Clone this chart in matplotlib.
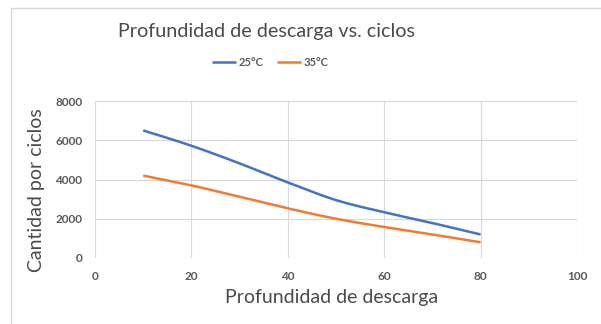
import numpy as np
import matplotlib
matplotlib.use("Agg")
import matplotlib.pyplot as plt
from matplotlib.patches import Rectangle

# Profundidad de descarga (%) y ciclos de vida por temperatura
profundidad = [10, 20, 30, 40, 50, 60, 70, 80]
ciclos_25 = [6500, 5720, 4820, 3850, 2950, 2330, 1780, 1200]
ciclos_35 = [4200, 3700, 3120, 2530, 2000, 1580, 1200, 800]
series = [("25°C", ciclos_25, "#4472C4"), ("35°C", ciclos_35, "#ED7D31")]

x_ticks = [0, 20, 40, 60, 80, 100]
y_ticks = [0, 2000, 4000, 6000, 8000]

TEXT = "#595959"
GRID = "#D9D9D9"
FONT = ["Lato", "DejaVu Sans"]


def smooth(x, y, n=20):
    """Catmull-Rom spline through the points, like a smoothed Excel line."""
    x = np.asarray(x, float)
    y = np.asarray(y, float)
    px = np.concatenate([[2 * x[0] - x[1]], x, [2 * x[-1] - x[-2]]])
    py = np.concatenate([[2 * y[0] - y[1]], y, [2 * y[-1] - y[-2]]])
    xs, ys = [], []
    t = np.linspace(0, 1, n, endpoint=False)
    for i in range(1, len(px) - 2):
        for p, out in ((px, xs), (py, ys)):
            p0, p1, p2, p3 = p[i - 1:i + 3]
            out.extend(0.5 * (2 * p1 + (-p0 + p2) * t
                              + (2 * p0 - 5 * p1 + 4 * p2 - p3) * t ** 2
                              + (-p0 + 3 * p1 - 3 * p2 + p3) * t ** 3))
    xs.append(x[-1])
    ys.append(y[-1])
    return np.array(xs), np.array(ys)


fig = plt.figure(figsize=(6.01, 3.24), dpi=100)
fig.patches.append(Rectangle((11 / 601, -0.1), 1.2, 1.1 - 8 / 324,
                             transform=fig.transFigure, fill=False,
                             edgecolor="#DCD6D2", linewidth=1.0))

ax = fig.add_axes([95 / 601, 66 / 324, 482 / 601, 157 / 324])
for label, vals, color in series:
    sx, sy = smooth(profundidad, vals)
    ax.plot(sx, sy, color=color, lw=1.8, label=label, solid_capstyle="butt")

ax.set_xlim(0, 100)
ax.set_ylim(0, 8000)
ax.set_xticks(x_ticks)
ax.set_yticks(y_ticks)
ax.grid(True, color=GRID, lw=0.8)
ax.set_axisbelow(True)
for s in ax.spines.values():
    s.set_visible(False)
ax.tick_params(length=0, colors=TEXT, labelsize=8.5, pad=9)
ax.tick_params(axis="x", pad=9)
for t in ax.get_xticklabels() + ax.get_yticklabels():
    t.set_family(FONT)
    t.set_fontweight("bold")

fig.text(266 / 601, 1 - 32 / 324, "Profundidad de descarga vs. ciclos",
         ha="center", va="center", fontsize=14.2, color="#4A4A4A", family=FONT)
fig.text(332 / 601, 1 - 298 / 324, "Profundidad de descarga",
         ha="center", va="center", fontsize=14, color="#4A4A4A", family=FONT)
fig.text(37 / 601, 1 - 190 / 324, "Cantidad por ciclos", rotation=90,
         ha="center", va="center", fontsize=14, color="#4A4A4A", family=FONT)

leg = fig.legend(loc="center", bbox_to_anchor=(270 / 601, 1 - 62 / 324),
                 ncol=2, frameon=False, handlelength=2.2,
                 handletextpad=0.2, columnspacing=1.2,
                 prop={"family": FONT, "weight": "bold", "size": 8})
for t in leg.get_texts():
    t.set_color(TEXT)

fig.savefig("out.png", dpi=100)
